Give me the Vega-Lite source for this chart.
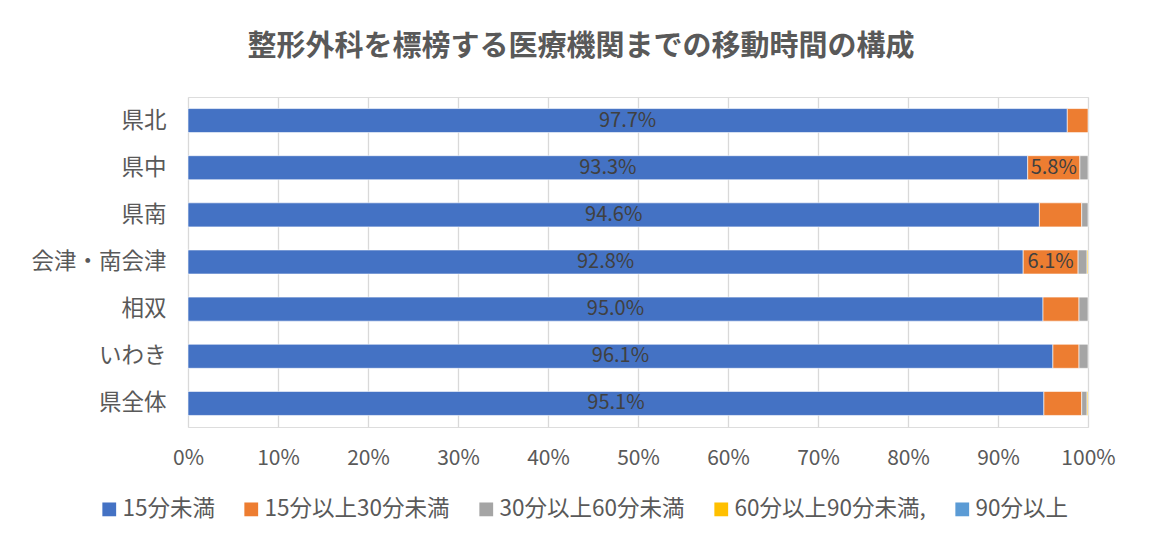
{
  "$schema": "https://vega.github.io/schema/vega-lite/v6.json",
  "width": 900,
  "height": 330,
  "autosize": {"type": "none"},
  "padding": {"left": 188, "top": 97, "right": 63, "bottom": 117},
  "background": "white",
  "title": {
    "text": "整形外科を標榜する医療機関までの移動時間の構成",
    "font": "Noto Sans CJK JP",
    "fontSize": 29,
    "fontWeight": "bold",
    "color": "#595959",
    "anchor": "middle",
    "dx": -57,
    "offset": 35
  },
  "data": {
    "values": [
      {"area": "県北", "series": "15分未満", "k": 1, "value": 0.977},
      {"area": "県北", "series": "15分以上30分未満", "k": 2, "value": 0.023},
      {"area": "県中", "series": "15分未満", "k": 1, "value": 0.933},
      {"area": "県中", "series": "15分以上30分未満", "k": 2, "value": 0.058},
      {"area": "県中", "series": "30分以上60分未満", "k": 3, "value": 0.009},
      {"area": "県南", "series": "15分未満", "k": 1, "value": 0.946},
      {"area": "県南", "series": "15分以上30分未満", "k": 2, "value": 0.047},
      {"area": "県南", "series": "30分以上60分未満", "k": 3, "value": 0.007},
      {"area": "会津・南会津", "series": "15分未満", "k": 1, "value": 0.928},
      {"area": "会津・南会津", "series": "15分以上30分未満", "k": 2, "value": 0.061},
      {"area": "会津・南会津", "series": "30分以上60分未満", "k": 3, "value": 0.010},
      {"area": "会津・南会津", "series": "60分以上90分未満,", "k": 4, "value": 0.001},
      {"area": "相双", "series": "15分未満", "k": 1, "value": 0.950},
      {"area": "相双", "series": "15分以上30分未満", "k": 2, "value": 0.040},
      {"area": "相双", "series": "30分以上60分未満", "k": 3, "value": 0.010},
      {"area": "いわき", "series": "15分未満", "k": 1, "value": 0.961},
      {"area": "いわき", "series": "15分以上30分未満", "k": 2, "value": 0.029},
      {"area": "いわき", "series": "30分以上60分未満", "k": 3, "value": 0.010},
      {"area": "県全体", "series": "15分未満", "k": 1, "value": 0.951},
      {"area": "県全体", "series": "15分以上30分未満", "k": 2, "value": 0.042},
      {"area": "県全体", "series": "30分以上60分未満", "k": 3, "value": 0.006},
      {"area": "県全体", "series": "60分以上90分未満,", "k": 4, "value": 0.001}
    ]
  },
  "transform": [
    {"stack": "value", "groupby": ["area"], "sort": [{"field": "k", "order": "ascending"}], "as": ["v0", "v1"]},
    {"calculate": "(datum.v0 + datum.v1) / 2", "as": "mid"}
  ],
  "encoding": {
    "y": {
      "field": "area",
      "type": "nominal",
      "sort": ["県北", "県中", "県南", "会津・南会津", "相双", "いわき", "県全体"],
      "scale": {"paddingInner": 0.49, "paddingOuter": 0.245},
      "axis": {
        "title": null,
        "domain": false,
        "ticks": false,
        "labelFont": "Noto Sans CJK JP",
        "labelFontSize": 22.5,
        "labelColor": "#595959",
        "labelPadding": 22
      }
    }
  },
  "layer": [
    {
      "mark": {"type": "bar", "stroke": "white", "strokeWidth": 0.6},
      "encoding": {
        "x": {
          "field": "v0",
          "type": "quantitative",
          "scale": {"domain": [0, 1], "nice": false},
          "axis": {
            "title": null,
            "format": ".0%",
            "values": [0, 0.1, 0.2, 0.3, 0.4, 0.5, 0.6, 0.7, 0.8, 0.9, 1],
            "domain": false,
            "ticks": false,
            "grid": true,
            "gridColor": "#D9D9D9",
            "gridWidth": 1.3,
            "labelFlush": false,
            "labelFont": "Noto Sans CJK JP",
            "labelFontSize": 21,
            "labelColor": "#595959",
            "labelPadding": 20
          }
        },
        "x2": {"field": "v1"},
        "color": {
          "field": "series",
          "type": "nominal",
          "scale": {
            "domain": ["15分未満", "15分以上30分未満", "30分以上60分未満", "60分以上90分未満,", "90分以上"],
            "range": ["#4472C4", "#ED7D31", "#A5A5A5", "#FFC000", "#5B9BD5"]
          },
          "legend": {
            "title": null,
            "orient": "none",
            "legendX": -90,
            "legendY": 401,
            "direction": "horizontal",
            "symbolType": "square",
            "symbolSize": 190,
            "symbolStrokeWidth": 0,
            "symbolOffset": 0,
            "labelOffset": 2,
            "labelLimit": 0,
            "labelFont": "Noto Sans CJK JP",
            "labelFontSize": 22.5,
            "labelColor": "#595959",
            "columnPadding": 25
          }
        }
      }
    },
    {
      "transform": [{"filter": "datum.k == 1 || datum.value >= 0.05"}],
      "mark": {"type": "text", "font": "Noto Sans CJK JP", "fontSize": 20, "color": "#404040", "baseline": "middle", "align": "center"},
      "encoding": {
        "x": {"field": "mid", "type": "quantitative"},
        "text": {"field": "value", "type": "quantitative", "format": ".1%"}
      }
    }
  ]
}
